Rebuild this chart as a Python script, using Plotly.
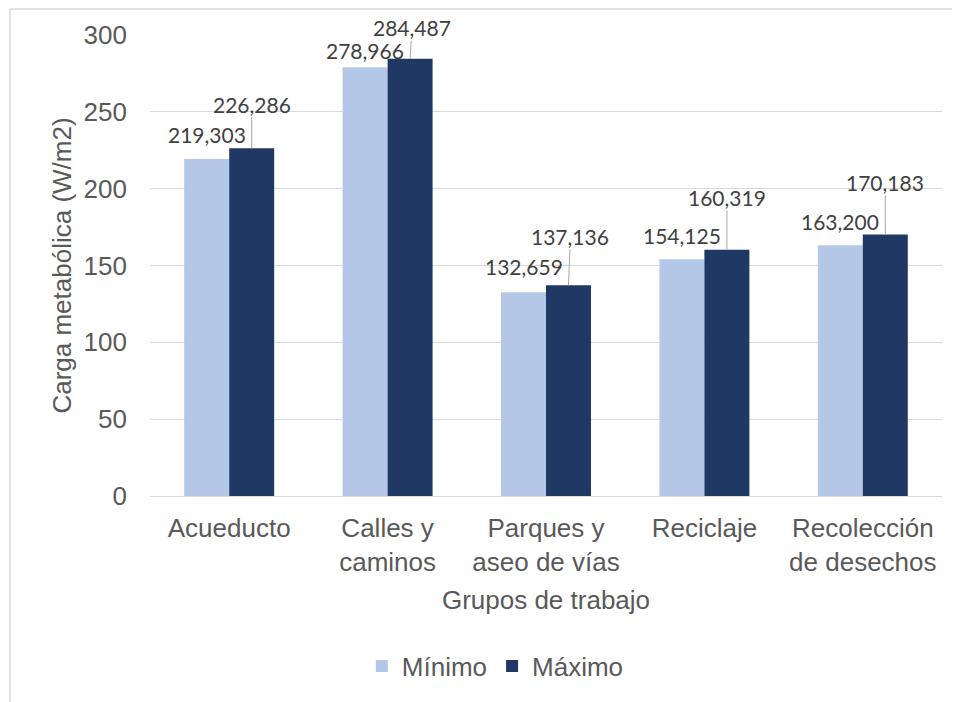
import plotly.graph_objects as go

categories = ["Acueducto", "Calles y<br>caminos", "Parques y<br>aseo de vías", "Reciclaje", "Recolección<br>de desechos"]
minimo = [219.303, 278.966, 132.659, 154.125, 163.200]
maximo = [226.286, 284.487, 137.136, 160.319, 170.183]
min_labels = ["219,303", "278,966", "132,659", "154,125", "163,200"]
max_labels = ["226,286", "284,487", "137,136", "160,319", "170,183"]
y_ticks = [0, 50, 100, 150, 200, 250, 300]

# label offsets (pixels above bar top) - styling
min_off = [25, 17, 26, 24, 24]
max_off = [44, 31, 49, 52, 52]
max_dx = [0, 2, 2, 0, 0]

BW = 0.284
xs = list(range(len(categories)))
C_MIN = "#B4C7E7"
C_MAX = "#203864"
AX_FONT = dict(family="Liberation Sans, Arial", size=26, color="#595959")
LBL_FONT = dict(family="Lato", size=21, color="#404040")

fig = go.Figure()
fig.add_trace(go.Bar(x=xs, y=minimo, name="Mínimo", marker_color=C_MIN,
                     width=BW, offset=-BW, marker_line_width=0))
fig.add_trace(go.Bar(x=xs, y=maximo, name="Máximo", marker_color=C_MAX,
                     width=BW, offset=0, marker_line_width=0))

anns = []
for i in xs:
    anns.append(dict(x=i - BW / 2, y=minimo[i], xref="x", yref="y", text=min_labels[i],
                     showarrow=False, yshift=min_off[i], yanchor="middle", font=LBL_FONT))
    anns.append(dict(x=i + BW / 2, y=maximo[i], xref="x", yref="y", text=max_labels[i],
                     showarrow=True, arrowhead=0, arrowwidth=1, arrowcolor="#A6A6A6",
                     ax=max_dx[i], ay=-max_off[i], standoff=0, borderpad=0, font=LBL_FONT))

PW, PH = 792, 463
L, T = 142, 27
fig.update_layout(
    width=952, height=694,
    margin=dict(l=L, r=952 - L - PW, t=T, b=694 - T - PH),
    paper_bgcolor="white", plot_bgcolor="white",
    barmode="overlay",
    showlegend=True,
    legend=dict(orientation="h", x=0.436, xanchor="center", y=-0.369, yanchor="middle",
                font=AX_FONT, itemsizing="constant", traceorder="normal"),
    annotations=anns,
    shapes=[
        dict(type="line", xref="paper", yref="paper", x0=(2 - L) / PW, x1=1.05,
             y0=1 + (T - 1) / PH, y1=1 + (T - 1) / PH, line=dict(color="#D9D9D9", width=1.5)),
        dict(type="line", xref="paper", yref="paper", x0=(2 - L) / PW, x1=(2 - L) / PW,
             y0=1 + (T - 1) / PH, y1=-0.5, line=dict(color="#D9D9D9", width=1.5)),
    ],
)
fig.update_xaxes(range=[-0.5, 4.5], tickvals=xs, ticktext=categories, tickfont=AX_FONT,
                 showgrid=False, zeroline=False, showline=False, ticks="", ticklabelstandoff=14,
                 title=dict(text="Grupos de trabajo", font=AX_FONT, standoff=15), automargin=False)
fig.update_yaxes(range=[0, 300], tickvals=y_ticks, tickfont=AX_FONT, showgrid=True,
                 gridcolor="#D9D9D9", gridwidth=1.3, zeroline=True, zerolinecolor="#D9D9D9",
                 zerolinewidth=1.3, showline=False, ticks="", ticklabelstandoff=22,
                 title=dict(text="Carga metabólica (W/m2)", font=AX_FONT, standoff=4),
                 automargin=False)

fig.write_html("out.html")
